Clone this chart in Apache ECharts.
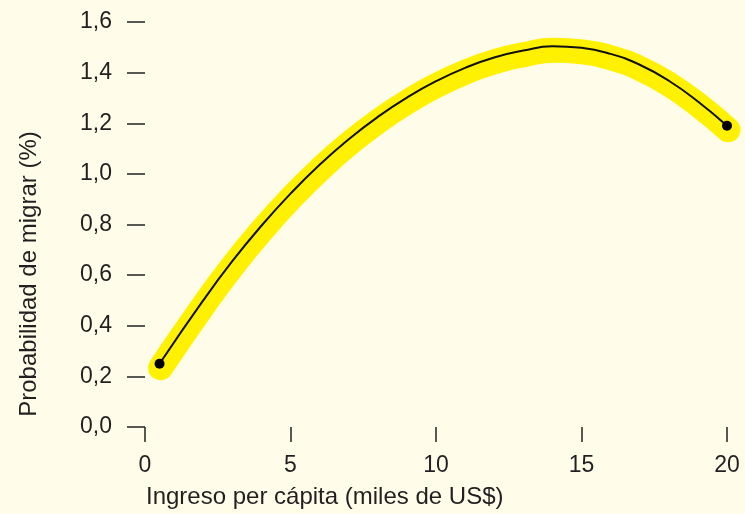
<!DOCTYPE html>
<html>
<head>
<meta charset="utf-8">
<script src="https://cdn.jsdelivr.net/npm/echarts@6/dist/echarts.min.js"></script>
<style>
html,body{margin:0;padding:0;background:#fffdea;}
#c{width:745px;height:514px;}
</style>
</head>
<body>
<div id="c"></div>
<script>
// Data
var incomeK = [0.5, 2, 3, 4, 5, 6, 7, 8, 9, 10, 11, 12, 13, 14, 15, 16, 17, 18, 19, 20];
var probPct = [0.25, 0.50, 0.655, 0.795, 0.922, 1.036, 1.137, 1.225, 1.301, 1.366, 1.419, 1.460, 1.487, 1.504, 1.498, 1.474, 1.431, 1.368, 1.286, 1.19];
var xTicks = [0, 5, 10, 15, 20];
var yTicks = [0, 0.2, 0.4, 0.6, 0.8, 1.0, 1.2, 1.4, 1.6];
var xTitle = 'Ingreso per cápita (miles de US$)';
var yTitle = 'Probabilidad de migrar (%)';

var pts = incomeK.map(function (x, i) { return [x, probPct[i]]; });
var lastIdx = pts.length - 1;

var FONT = '"Liberation Sans", Arial, sans-serif';
var TXT = '#231f20';

var chart = echarts.init(document.getElementById('c'), null, {renderer: 'canvas'});
chart.setOption({
  backgroundColor: '#fffdea',
  animation: false,
  grid: [
    {left: 145, right: 18, top: 22, bottom: 87},
    {left: 146, right: 17, top: 26, bottom: 83}
  ],
  xAxis: [{
    gridIndex: 0, type: 'value',
    min: xTicks[0], max: xTicks[xTicks.length - 1], interval: 5,
    axisLine: {show: false},
    axisTick: {show: true, length: 15, lineStyle: {color: '#222', width: 1.5}},
    splitLine: {show: false},
    axisLabel: {margin: 27, color: TXT, fontSize: 23, fontFamily: FONT}
  }, {
    gridIndex: 1, type: 'value', min: xTicks[0], max: xTicks[xTicks.length - 1], show: false
  }],
  yAxis: [{
    gridIndex: 0, type: 'value',
    min: yTicks[0], max: yTicks[yTicks.length - 1], interval: 0.2,
    axisLine: {show: false},
    axisTick: {show: true, length: 18, lineStyle: {color: '#222', width: 1.5}},
    splitLine: {show: false},
    axisLabel: {
      margin: 33, color: TXT, fontSize: 23, fontFamily: FONT,
      formatter: function (v) { return v.toFixed(1).replace('.', ','); }
    }
  }, {
    gridIndex: 1, type: 'value', min: yTicks[0], max: yTicks[yTicks.length - 1], show: false
  }],
  graphic: [
    {type: 'text', style: {text: xTitle, x: 146, y: 497, align: 'left', verticalAlign: 'middle',
      fontSize: 24, fontFamily: FONT, fill: TXT}},
    {type: 'text', x: 29, y: 274, rotation: Math.PI / 2,
      style: {text: yTitle, x: 0, y: 0, align: 'center', verticalAlign: 'middle',
      fontSize: 24, fontFamily: FONT, fill: TXT}}
  ],
  series: [{
    type: 'line', xAxisIndex: 1, yAxisIndex: 1, data: pts, smooth: 0.5,
    showSymbol: false, silent: true, z: 1,
    lineStyle: {color: '#fff100', width: 25, cap: 'round', join: 'round'}
  }, {
    type: 'line', xAxisIndex: 0, yAxisIndex: 0, data: pts, smooth: 0.5,
    showSymbol: true, showAllSymbol: true, silent: true, z: 3,
    symbol: function (val, params) {
      return (params.dataIndex === 0 || params.dataIndex === lastIdx) ? 'circle' : 'none';
    },
    symbolSize: 10,
    itemStyle: {color: '#000', borderWidth: 0},
    lineStyle: {color: '#111', width: 2}
  }]
});
</script>
</body>
</html>
